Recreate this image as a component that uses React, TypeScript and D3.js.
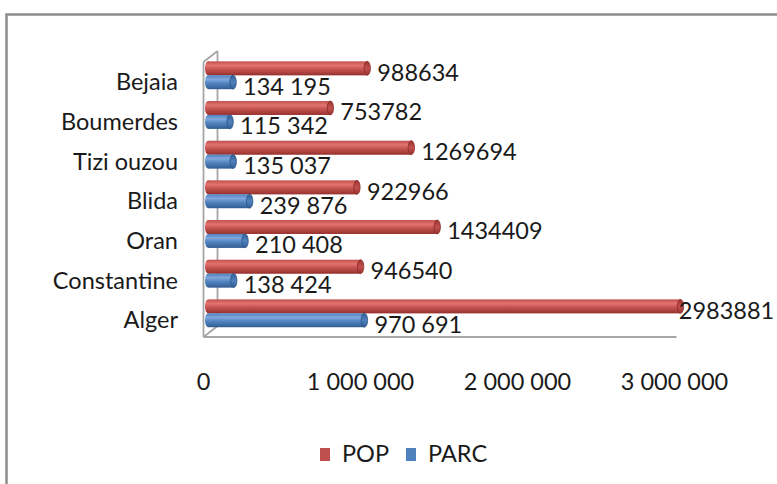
import React from "react";
import * as d3 from "d3";

const categories = ["Bejaia", "Boumerdes", "Tizi ouzou", "Blida", "Oran", "Constantine", "Alger"];
const popValues = [988634, 753782, 1269694, 922966, 1434409, 946540, 2983881];
const parcValues = [134195, 115342, 135037, 239876, 210408, 138424, 970691];
const seriesNames = ["POP", "PARC"];
const xTicks = [0, 1000000, 2000000, 3000000];

const W = 777;
const H = 484;
const FONT = "Lato, 'Open Sans', sans-serif";
const FS = 23.5;

const locale = d3.formatLocale({ thousands: " ", grouping: [3], decimal: ",", currency: ["", ""] });
const fmtSpace = locale.format(",d");
const fmtPlain = d3.format("d");

const colors: Record<string, { base: string; light: string; dark: string; edge: string }> = {
  POP: { base: "#c0504d", light: "#e4736f", dark: "#9a3330", edge: "#8a2a28" },
  PARC: { base: "#4f81bd", light: "#7fa7dc", dark: "#345f95", edge: "#2c5384" },
};

export default function App() {
  const x = d3.scaleLinear().domain([0, 3000000]).range([203.5, 674.5]);
  const y = d3
    .scaleBand<string>()
    .domain(categories)
    .range([55.4, 333.1])
    .paddingInner(0.3)
    .paddingOuter(0.15);
  const inner = d3.scaleBand<string>().domain(seriesNames).range([0, y.bandwidth()]);
  const bh = inner.bandwidth();

  const rows = categories.map((c, i) => ({ c, POP: popValues[i], PARC: parcValues[i] }));

  const bars: React.ReactNode[] = [];
  const labels: React.ReactNode[] = [];
  rows.forEach((r) => {
    seriesNames.forEach((s) => {
      const v = (r as any)[s] as number;
      const left = x(0) + 4.5;
      const right = x(v) + 8.5;
      const top = (y(r.c) as number) + (inner(s) as number);
      const cy = top + bh / 2;
      const col = colors[s];
      bars.push(
        <g key={`${r.c}-${s}`}>
          <rect x={left} y={top} width={right - left} height={bh} fill={`url(#grad-${s})`} />
          <line x1={left} x2={right} y1={top + bh - 0.5} y2={top + bh - 0.5} stroke={col.dark} strokeWidth={1} opacity={0.7} />
          <ellipse cx={left} cy={cy} rx={3} ry={bh / 2} fill={`url(#grad-${s})`} />
          <ellipse cx={right} cy={cy} rx={3.2} ry={bh / 2} fill={`url(#cap-${s})`} stroke={col.edge} strokeWidth={0.8} />
        </g>
      );
      const txt = s === "POP" ? fmtPlain(v) : fmtSpace(v);
      const estW = txt.length * 0.585 * FS;
      let lx = right + 10;
      if (lx + estW > W - 2) lx = W - 2 - estW;
      labels.push(
        <text key={`l-${r.c}-${s}`} x={lx} y={cy + 12.5} fontFamily={FONT} fontSize={FS} fill="#1a1a1a">
          {txt}
        </text>
      );
    });
  });

  const axisColor = "#a6a6a6";
  const x0 = x(0);
  const yTopFront = 62;
  const yBotFront = 337;
  const depthX = 14;
  const depthY = 11;

  return (
    <svg width={W} height={H} style={{ position: "absolute", left: 0, top: 0, background: "#fff" }}>
      <defs>
        {seriesNames.map((s) => (
          <linearGradient key={s} id={`grad-${s}`} x1="0" y1="0" x2="0" y2="1">
            <stop offset="0%" stopColor={colors[s].base} />
            <stop offset="30%" stopColor={colors[s].light} />
            <stop offset="60%" stopColor={colors[s].base} />
            <stop offset="100%" stopColor={colors[s].dark} />
          </linearGradient>
        ))}
        {seriesNames.map((s) => (
          <linearGradient key={s} id={`cap-${s}`} x1="0" y1="0" x2="0" y2="1">
            <stop offset="0%" stopColor={colors[s].dark} />
            <stop offset="50%" stopColor={colors[s].base} />
            <stop offset="100%" stopColor={colors[s].dark} />
          </linearGradient>
        ))}
      </defs>
      <rect x={0} y={0} width={W} height={H} fill="#fff" />
      <rect x={6.5} y={14.5} width={W + 20} height={H + 20} fill="none" stroke="#8c8c8c" strokeWidth={2.5} />

      <g stroke={axisColor} strokeWidth={1.8} fill="none">
        <line x1={x0 + depthX} y1={yTopFront - depthY} x2={x0 + depthX} y2={yBotFront - depthY} />
        <line x1={x0} y1={yTopFront} x2={x0 + depthX} y2={yTopFront - depthY} />
        <line x1={x0} y1={yTopFront} x2={x0} y2={yBotFront} />
        <line x1={x0} y1={yBotFront} x2={x(3000000) + 2} y2={yBotFront} />
        <line x1={x0} y1={yBotFront} x2={x0 + depthX} y2={yBotFront - depthY} />
      </g>

      {bars}
      {labels}

      {categories.map((c) => (
        <text
          key={c}
          x={178}
          y={(y(c) as number) + y.bandwidth() / 2 + 15}
          textAnchor="end"
          fontFamily={FONT}
          fontSize={FS}
          fill="#1a1a1a"
        >
          {c}
        </text>
      ))}

      {xTicks.map((t) => (
        <text key={t} x={x(t)} y={390} textAnchor="middle" fontFamily={FONT} fontSize={FS} fill="#1a1a1a">
          {fmtSpace(t)}
        </text>
      ))}

      {seriesNames.map((s, i) => {
        const lx = i === 0 ? 320 : 406;
        return (
          <g key={s}>
            <rect x={lx} y={448} width={10} height={13} fill={colors[s].base} />
            <text x={lx + 22} y={462} fontFamily={FONT} fontSize={FS} fill="#1a1a1a">
              {s}
            </text>
          </g>
        );
      })}
    </svg>
  );
}
